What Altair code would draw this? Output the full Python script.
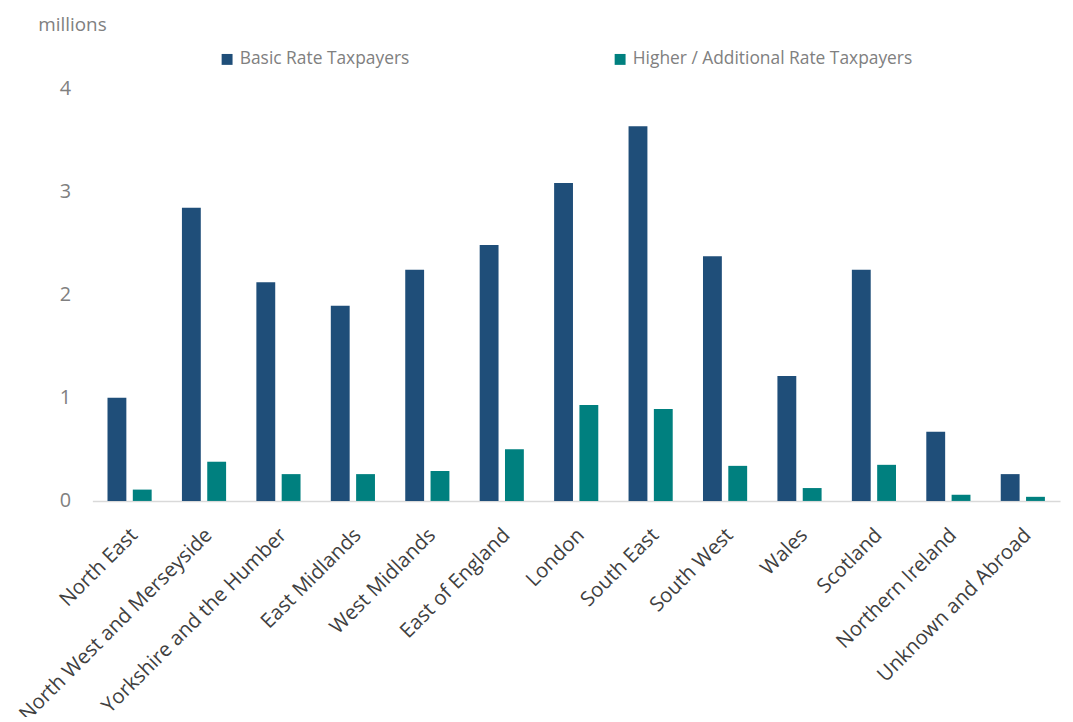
import altair as alt
import pandas as pd

regions = ["North East", "North West and Merseyside", "Yorkshire and the Humber",
           "East Midlands", "West Midlands", "East of England", "London",
           "South East", "South West", "Wales", "Scotland", "Northern Ireland",
           "Unknown and Abroad"]
basic = [1.00, 2.84, 2.12, 1.89, 2.24, 2.48, 3.08, 3.63, 2.37, 1.21, 2.24, 0.67, 0.26]
higher = [0.11, 0.38, 0.26, 0.26, 0.29, 0.50, 0.93, 0.89, 0.34, 0.125, 0.35, 0.06, 0.04]
series = ["Basic Rate Taxpayers", "Higher / Additional Rate Taxpayers"]
colors = ["#1F4E79", "#00807F"]

rows = []
for r, b, h in zip(regions, basic, higher):
    rows.append({"region": r, "series": series[0], "value": b})
    rows.append({"region": r, "series": series[1], "value": h})
df = pd.DataFrame(rows)

FONT = "Open Sans"

chart = alt.Chart(df).mark_bar(size=19).encode(
    x=alt.X("region:N", sort=regions,
            scale=alt.Scale(paddingInner=0.32, paddingOuter=0.16),
            axis=alt.Axis(title=None, labelAngle=-45, labelAlign="right",
                          labelBaseline="middle", labelFontSize=20.5,
                          labelColor="#404040", labelFont=FONT, ticks=False,
                          labelPadding=31, labelOffset=5, domainColor="#D9D9D9",
                          domainWidth=1.5, labelLimit=400)),
    xOffset=alt.XOffset("series:N", sort=series,
                        scale=alt.Scale(paddingInner=0, paddingOuter=0)),
    y=alt.Y("value:Q", scale=alt.Scale(domain=[0, 4]),
            axis=alt.Axis(values=[0, 1, 2, 3, 4], grid=False, domain=False,
                          ticks=False, labelFontSize=20, labelColor="#808080",
                          labelFont=FONT, labelPadding=22,
                          title="millions", titleAngle=0, titleAlign="left",
                          titleBaseline="alphabetic", titleX=-55, titleY=-58,
                          titleFontSize=19, titleFontWeight="normal",
                          titleColor="#808080", titleFont=FONT)),
    color=alt.Color("series:N", sort=series,
                    scale=alt.Scale(domain=series, range=colors),
                    legend=alt.Legend(title=None, orient="none", direction="horizontal",
                                      legendX=127, legendY=-38,
                                      symbolType="square", symbolSize=121,
                                      symbolStrokeWidth=0,
                                      labelFontSize=17.5, labelColor="#808080",
                                      labelFont=FONT, columnPadding=203,
                                      labelLimit=400)),
).properties(
    width=975, height=416,
    autosize=alt.AutoSizeParams(type="none"),
    padding={"left": 85, "top": 78, "right": 5, "bottom": 215},
).configure_view(stroke=None)

chart.save("out.html", embed_options={"renderer": "svg", "actions": False})
